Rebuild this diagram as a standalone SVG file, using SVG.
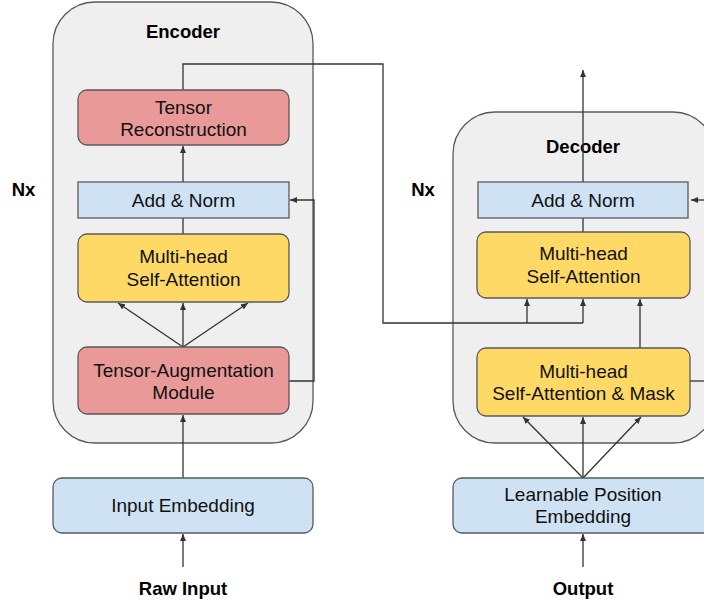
<svg xmlns="http://www.w3.org/2000/svg" width="704" height="602" viewBox="0 0 704 602">
<defs>
<marker id="ah" markerWidth="7" markerHeight="6" refX="7" refY="3" orient="auto" markerUnits="userSpaceOnUse">
<path d="M0,0 L7,3 L0,6 Z" fill="#333333"/>
</marker>
<style>
.cont{fill:#efefef;stroke:#595959;stroke-width:1.3}
.blue{fill:#cfe2f3;stroke:#595959;stroke-width:1.3}
.pink{fill:#ea9999;stroke:#595959;stroke-width:1.3}
.yel{fill:#ffd966;stroke:#595959;stroke-width:1.3}
.t{font-family:"Liberation Sans",Arial,sans-serif;font-size:19px;fill:#111111;text-anchor:middle}
.b{font-family:"Liberation Sans",Arial,sans-serif;font-size:18.5px;font-weight:bold;fill:#000;text-anchor:middle}
.ln{fill:none;stroke:#333333;stroke-width:1.3}
.ar{fill:none;stroke:#333333;stroke-width:1.3;marker-end:url(#ah)}
</style>
</defs>
<rect width="704" height="602" fill="#ffffff"/>
<g id="encoder">
<rect class="cont" x="53" y="2" width="260" height="441" rx="42" ry="42"/>
<text class="b" x="183" y="38">Encoder</text>
</g>
<g id="decoder">
<rect class="cont" x="453" y="112" width="262" height="331" rx="42" ry="42"/>
<text class="b" x="583" y="153">Decoder</text>
</g>
<g id="nx-enc"><text class="b" x="23.5" y="196">Nx</text></g>
<g id="nx-dec"><text class="b" x="423" y="196">Nx</text></g>
<g id="connectors">
<path class="ar" d="M183,567 L183,534"/>
<path class="ar" d="M183,478 L183,415"/>
<path class="ar" d="M183,347 L183,303"/>
<path class="ar" d="M183,347 L118,303"/>
<path class="ar" d="M183,347 L248,303"/>
<path class="ln" d="M183,234 L183,218"/>
<path class="ar" d="M183,182 L183,146"/>
<path class="ar" d="M289,381 L314,381 L314,200 L290,200"/>
<path class="ln" d="M183,90 L183,64 L383,64 L383,323 L583,323"/>
<path class="ar" d="M527,323 L527,299"/>
<path class="ar" d="M583,323 L583,299"/>
<path class="ar" d="M583,567 L583,534"/>
<path class="ar" d="M583,478 L583,417"/>
<path class="ar" d="M583,478 L523,417"/>
<path class="ar" d="M583,478 L641,417"/>
<path class="ar" d="M640,348 L640,299"/>
<path class="ln" d="M583,232 L583,218"/>
<path class="ar" d="M583,182 L583,70"/>
<path class="ln" d="M690,381 L706,381"/>
<path class="ar" d="M706,200 L691,200"/>
</g>
<g id="tensor-reconstruction">
<rect class="pink" x="78" y="90" width="211" height="55" rx="9"/>
<text class="t" x="183.5" y="114">Tensor</text>
<text class="t" x="183.5" y="136">Reconstruction</text>
</g>
<g id="enc-add-norm">
<rect class="blue" x="78" y="182" width="211" height="36"/>
<text class="t" x="183.5" y="207">Add &amp; Norm</text>
</g>
<g id="enc-mhsa">
<rect class="yel" x="78" y="234" width="211" height="68" rx="9"/>
<text class="t" x="183.5" y="263">Multi-head</text>
<text class="t" x="183.5" y="286">Self-Attention</text>
</g>
<g id="tensor-augmentation">
<rect class="pink" x="78" y="347" width="211" height="67" rx="9"/>
<text class="t" x="183.5" y="377">Tensor-Augmentation</text>
<text class="t" x="183.5" y="399">Module</text>
</g>
<g id="input-embedding">
<rect class="blue" x="53" y="478" width="260" height="55" rx="9"/>
<text class="t" x="183" y="512">Input Embedding</text>
</g>
<g id="raw-input"><text class="b" x="183" y="595">Raw Input</text></g>
<g id="dec-add-norm">
<rect class="blue" x="478" y="182" width="210" height="36"/>
<text class="t" x="583" y="207">Add &amp; Norm</text>
</g>
<g id="dec-mhsa">
<rect class="yel" x="477" y="232" width="213" height="66" rx="9"/>
<text class="t" x="583.5" y="260">Multi-head</text>
<text class="t" x="583.5" y="283">Self-Attention</text>
</g>
<g id="dec-mhsa-mask">
<rect class="yel" x="477" y="348" width="213" height="68" rx="9"/>
<text class="t" x="583.5" y="378">Multi-head</text>
<text class="t" x="583.5" y="400">Self-Attention &amp; Mask</text>
</g>
<g id="learnable-position-embedding">
<rect class="blue" x="453" y="478" width="262" height="55" rx="9"/>
<text class="t" x="583" y="501">Learnable Position</text>
<text class="t" x="583" y="523">Embedding</text>
</g>
<g id="output"><text class="b" x="583" y="595">Output</text></g>
</svg>
